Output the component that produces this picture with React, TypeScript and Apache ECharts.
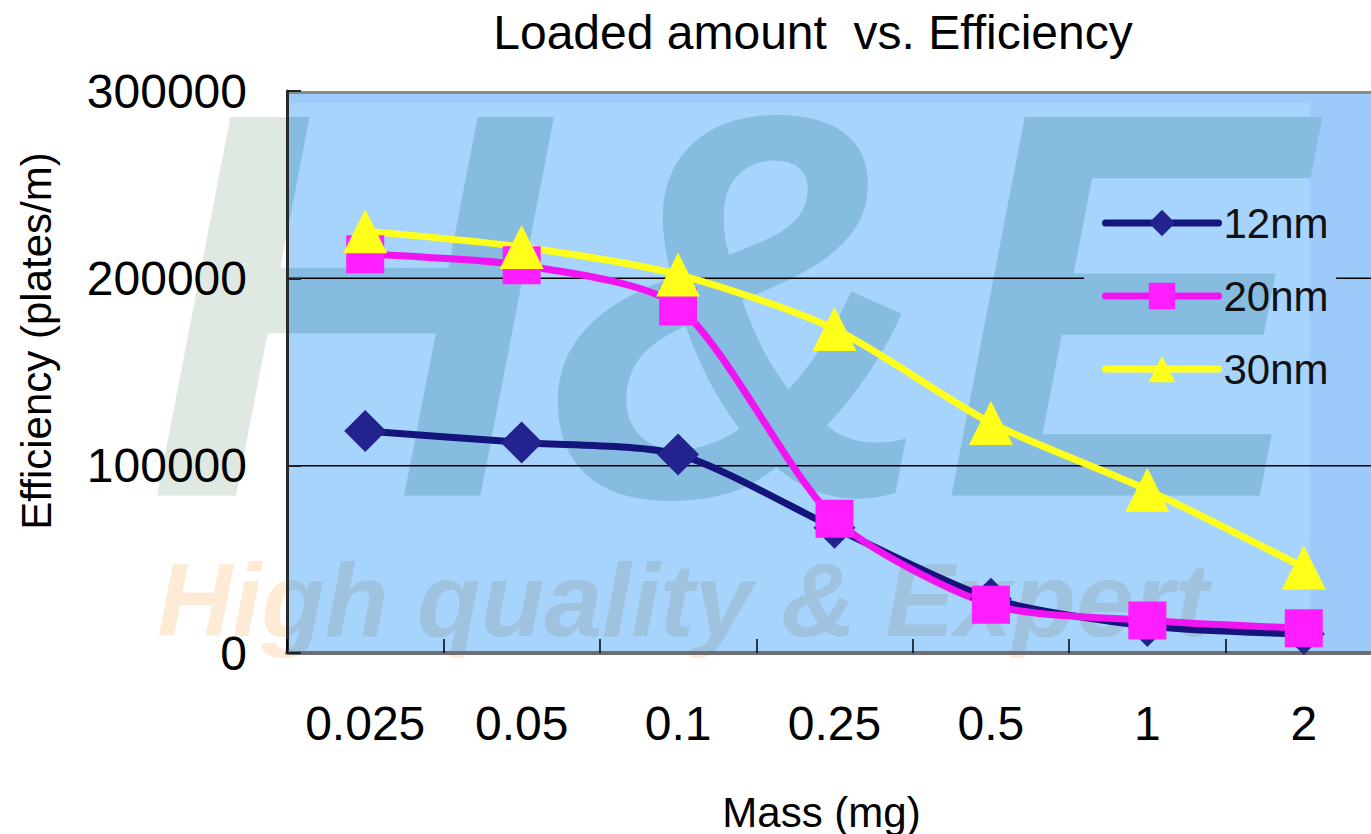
import React, { useEffect, useRef } from "react";
import * as echarts from "echarts";

const categories = ["0.025", "0.05", "0.1", "0.25", "0.5", "1", "2"];
const eff12nm = [118500, 112400, 106000, 66800, 29000, 14400, 10100];
const eff20nm = [212800, 207000, 185000, 71700, 25800, 17400, 13200];
const eff30nm = [225200, 216700, 202000, 173000, 122800, 87100, 45700];
const seriesNames = ["12nm", "20nm", "30nm"];
const gridValues = [100000, 200000];

const FONT = "'Liberation Sans', Arial, Helvetica, sans-serif";
const WM_BIG = "italic bold 550px 'Liberation Sans', Arial, sans-serif";
const WM_SMALL = "italic bold 104px 'Liberation Sans', Arial, sans-serif";

function wmText(text: string, x: number, y: number, font: string, fill: string) {
  return {
    type: "text",
    x,
    y,
    silent: true,
    style: {
      text,
      font,
      fill,
      align: "center",
      verticalAlign: "middle",
      textAlign: "center",
      textVerticalAlign: "middle",
    },
  };
}

export default function App() {
  const ref = useRef<HTMLDivElement>(null);
  useEffect(() => {
    if (!ref.current) return;
    const chart = echarts.init(ref.current, null, { renderer: "svg" });

    const lineSeries = (name: string, data: number[], symbol: string, size: number, lineColor: string, markColor: string) => ({
      name,
      type: "line",
      data,
      z: 2,
      smooth: 0.25,
      symbol,
      symbolSize: size,
      showAllSymbol: true,
      lineStyle: { color: lineColor, width: 7 },
      itemStyle: { color: markColor },
      emphasis: { disabled: true },
    });

    chart.setOption({
      animation: false,
      title: {
        text: "Loaded amount  vs. Efficiency",
        left: 808,
        textAlign: "center",
        top: 3,
        textStyle: { fontFamily: FONT, fontSize: 48, fontWeight: "normal", color: "#000" },
      },
      legend: {
        data: seriesNames,
        orient: "vertical",
        left: 1097,
        top: 197,
        itemWidth: 113,
        itemHeight: 33,
        itemGap: 31,
        lineStyle: { width: 7, cap: "round" },
        textStyle: { fontFamily: FONT, fontSize: 42, color: "#111" },
      },
      grid: { left: 287, top: 91, width: 1095, height: 562, show: false, containLabel: false, outerBoundsMode: "none" },
      xAxis: {
        type: "category",
        data: categories,
        z: 1.5,
        boundaryGap: true,
        name: "Mass (mg)",
        nameLocation: "middle",
        nameGap: 138,
        nameTextStyle: { fontFamily: FONT, fontSize: 42, color: "#000", padding: [0, 26, 0, 0] },
        axisLine: { show: true, lineStyle: { color: "#6e6e6e", width: 4 } },
        axisTick: { show: true, inside: true, length: 14, lineStyle: { color: "#000", width: 1.5 } },
        axisLabel: { fontFamily: FONT, fontSize: 48, color: "#000", margin: 46, interval: 0 },
        splitLine: { show: false },
      },
      yAxis: {
        type: "value",
        min: 0,
        max: 300000,
        interval: 100000,
        z: 1.5,
        name: "Efficiency (plates/m)",
        nameLocation: "middle",
        nameGap: 230,
        nameTextStyle: { fontFamily: FONT, fontSize: 42, color: "#000", padding: [0, 0, 0, 62] },
        axisLine: { show: true, lineStyle: { color: "#2a2a2a", width: 3 } },
        axisTick: { show: true, inside: true, length: 14, lineStyle: { color: "#222", width: 2 } },
        axisLabel: { fontFamily: FONT, fontSize: 48, color: "#000", margin: 40, formatter: (v: number) => String(v) },
        splitLine: { show: false },
      },
      series: [
        {
          type: "custom",
          name: "bgOuter",
          z: 0,
          clip: false,
          silent: true,
          data: [0],
          renderItem: (params: any) => {
            const cs = params.coordSys;
            return {
              type: "group",
              children: [
                wmText("H&E", 728, 305, WM_BIG, "#dfe9e2"),
                wmText("High quality & Expert", 683, 600, WM_SMALL, "#fdebd6"),
                { type: "rect", shape: { x: cs.x, y: cs.y, width: cs.width, height: cs.height }, style: { fill: "#9ccafa" } },
              ],
            };
          },
        },
        {
          type: "custom",
          name: "bgInner",
          z: 0.5,
          clip: true,
          silent: true,
          data: [0],
          renderItem: (params: any) => {
            const cs = params.coordSys;
            return {
              type: "group",
              children: [
                { type: "rect", shape: { x: cs.x, y: cs.y + 12, width: 1310 - cs.x, height: cs.height }, style: { fill: "#a6d4fc" } },
                wmText("H&E", 728, 305, WM_BIG, "#86bce0"),
                wmText("High quality & Expert", 683, 600, WM_SMALL, "#9fc2de"),
              ],
            };
          },
        },
        {
          type: "custom",
          name: "gridLines",
          z: 1,
          clip: true,
          silent: true,
          data: [0],
          renderItem: (params: any, api: any) => {
            const cs = params.coordSys;
            const right = cs.x + cs.width;
            const y1 = api.coord([0, gridValues[0]])[1];
            const y2 = api.coord([0, gridValues[1]])[1];
            const ls = { stroke: "#000", lineWidth: 1.5 };
            return {
              type: "group",
              children: [
                { type: "line", shape: { x1: cs.x, y1: y1, x2: right, y2: y1 }, style: ls },
                { type: "line", shape: { x1: cs.x, y1: y2, x2: 1084, y2: y2 }, style: ls },
                { type: "line", shape: { x1: 1336, y1: y2, x2: right, y2: y2 }, style: ls },
                { type: "line", shape: { x1: cs.x, y1: cs.y + 1.5, x2: right, y2: cs.y + 1.5 }, style: { stroke: "#8a8a8a", lineWidth: 3 } },
              ],
            };
          },
        },
        lineSeries("12nm", eff12nm, "diamond", 42, "#14147c", "#23238f"),
        lineSeries("20nm", eff20nm, "rect", 38, "#f014f0", "#ff1eff"),
        lineSeries("30nm", eff30nm, "triangle", 44, "#ffff1e", "#ffff1a"),
      ],
    });
    return () => chart.dispose();
  }, []);
  return <div ref={ref} style={{ position: "absolute", left: 0, top: 0, width: 1371, height: 834 }} />;
}
